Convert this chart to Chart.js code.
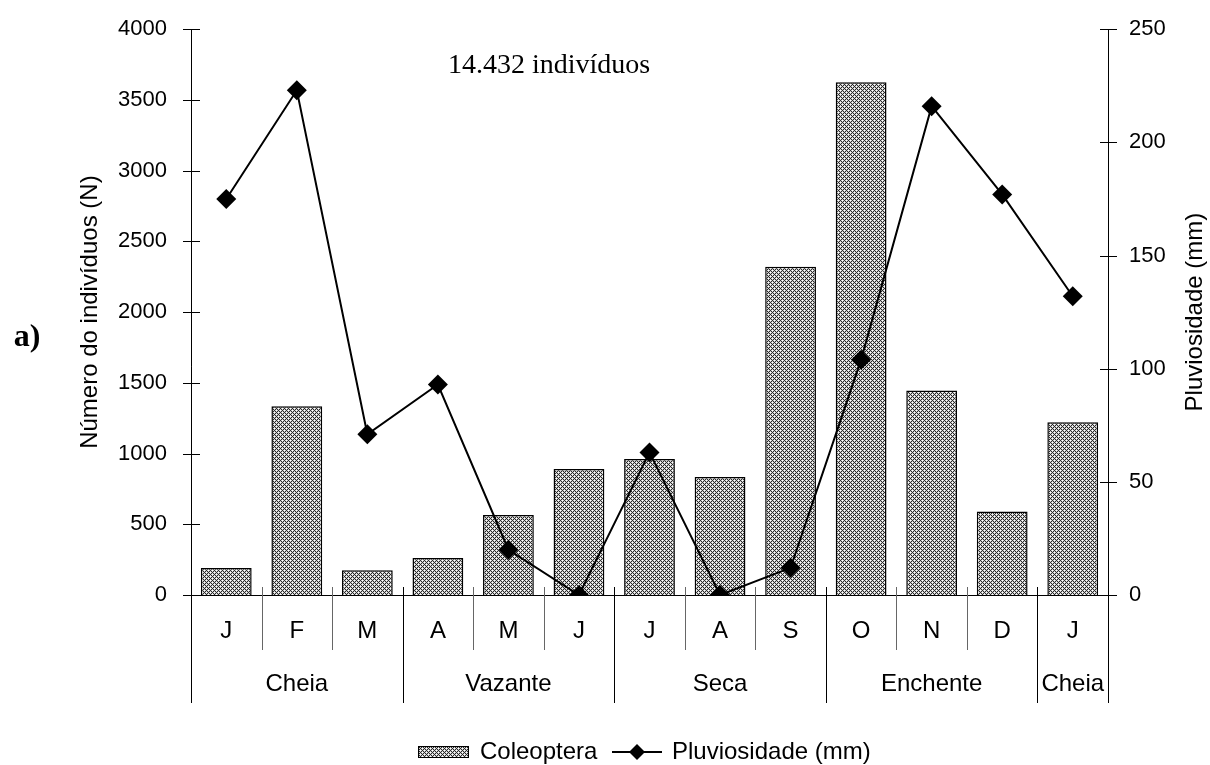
<!DOCTYPE html>
<html><head><meta charset="utf-8">
<script src="https://cdn.jsdelivr.net/npm/chart.js@4/dist/chart.umd.min.js"></script>
<style>html,body{margin:0;padding:0;background:#fff}canvas{display:block}</style>
</head><body>
<canvas id="c" width="1210" height="765"></canvas>
<script>
// ---- data ----
const months = ['J','F','M','A','M','J','J','A','S','O','N','D','J'];
const seasonLabels = ['Cheia','Vazante','Seca','Enchente','Cheia'];
const seasonSpans = [3,3,3,3,1];
const coleoptera = [190,1335,175,262,565,890,962,835,2320,3625,1445,590,1222];
const pluviosidade = [175,223,71,93,20,0,63,0,12,104,216,177,132];
const leftMax = 4000, leftStep = 500;
const rightMax = 250, rightStep = 50;
const annotation = '14.432 indivíduos';
const panelLabel = 'a)';
const leftTitle = 'Número do indivíduos (N)';
const rightTitle = 'Pluviosidade (mm)';

const canvas = document.getElementById('c');
const ctx = canvas.getContext('2d');

function makePattern(){
  const t = document.createElement('canvas'); t.width = 4; t.height = 4;
  const g = t.getContext('2d');
  const img = g.createImageData(4,4);
  for(let y=0;y<4;y++) for(let x=0;x<4;x++){
    let v;
    if(((x+y)%4===0) || ((x-y+4)%4===0)) v = 40;
    else if((x===2&&y===0)||(x===0&&y===2)) v = 255;
    else v = 205;
    const i=(y*4+x)*4; img.data[i]=v; img.data[i+1]=v; img.data[i+2]=v; img.data[i+3]=255;
  }
  g.putImageData(img,0,0);
  return ctx.createPattern(t,'repeat');
}
const pattern = makePattern();

const SANS = "'Liberation Sans', Arial, sans-serif";
const SERIF = "'Liberation Serif', 'Times New Roman', serif";

function L(c,x1,y1,x2,y2){c.beginPath();c.moveTo(x1,y1);c.lineTo(x2,y2);c.stroke();}
const r = v => Math.round(v)+0.5;

const deco = {
  id:'deco',
  beforeDatasetsDraw(chart){
    const {ctx:c, chartArea:a, scales:{x,y,y1}} = chart;
    c.save();
    c.strokeStyle='#000'; c.lineWidth=1;
    const bottomExt = 703;
    L(c, r(a.left), a.top, r(a.left), bottomExt);
    y.ticks.forEach(t=>{const py=r(y.getPixelForValue(t.value)); L(c,a.left-8,py,a.left+9,py);});
    L(c, r(a.right), a.top, r(a.right), bottomExt);
    y1.ticks.forEach(t=>{const py=r(y1.getPixelForValue(t.value)); L(c,a.right-8,py,a.right+9,py);});
    L(c, a.left-8, r(a.bottom), a.right+9, r(a.bottom));
    const n = months.length;
    const groupEdges = new Set([0]);
    let acc=0; seasonSpans.forEach(s=>{acc+=s; groupEdges.add(acc);});
    const edge = i => i===0 ? a.left : (i===n ? a.right : (x.getPixelForValue(i-1)+x.getPixelForValue(i))/2);
    for(let i=1;i<n;i++){
      const ex = r(edge(i));
      if(groupEdges.has(i)){ c.strokeStyle='#000'; L(c, ex, a.bottom-8, ex, bottomExt); }
      else { c.strokeStyle='#666'; L(c, ex, a.bottom-8, ex, 650); }
    }
    c.fillStyle='#000'; c.textAlign='center'; c.textBaseline='middle';
    c.font = '24px '+SANS;
    months.forEach((m,i)=>c.fillText(m, x.getPixelForValue(i), 631));
    let start=0;
    seasonLabels.forEach((s,k)=>{
      const end=start+seasonSpans[k];
      c.fillText(s, (edge(start)+edge(end))/2, 684);
      start=end;
    });
    c.font = '24px '+SANS;
    c.save(); c.translate(90, (a.top+a.bottom)/2); c.rotate(-Math.PI/2); c.fillText(leftTitle,0,0); c.restore();
    c.save(); c.translate(1195, (a.top+a.bottom)/2); c.rotate(-Math.PI/2); c.fillText(rightTitle,0,0); c.restore();
    c.font = '28px '+SERIF; c.textBaseline='alphabetic';
    c.fillText(annotation, 549, 73);
    c.font = 'bold 32px '+SERIF; c.textBaseline='middle';
    c.fillText(panelLabel, 27, 338);
    const ly = 752;
    c.fillStyle = pattern; c.fillRect(418, ly-5, 50, 10);
    c.strokeStyle='#000'; c.lineWidth=1; c.strokeRect(418.5, ly-5.5, 50, 11);
    c.fillStyle='#000'; c.textAlign='left'; c.font='24px '+SANS;
    c.fillText(chart.data.datasets[1].label, 480, ly);
    c.lineWidth=2; L(c, 612, ly, 662, ly);
    c.beginPath(); c.moveTo(637, ly-8); c.lineTo(645, ly); c.lineTo(637, ly+8); c.lineTo(629, ly); c.closePath(); c.fill();
    c.fillText(chart.data.datasets[0].label, 672, ly);
    c.restore();
  }
};

new Chart(ctx, {
  data: {
    labels: months,
    datasets: [
      {type:'line', label:'Pluviosidade (mm)', data: pluviosidade, yAxisID:'y1',
       borderColor:'#000', borderWidth:2, pointStyle:'rectRot', pointRadius:10,
       pointBackgroundColor:'#000', pointBorderColor:'#000', pointBorderWidth:0,
       tension:0, order:0},
      {type:'bar', label:'Coleoptera', data: coleoptera, yAxisID:'y',
       backgroundColor: pattern, borderColor:'#000', borderWidth:1.5,
       barPercentage:0.72, categoryPercentage:1, order:1}
    ]
  },
  options: {
    responsive:false, animation:false, devicePixelRatio:1,
    layout:{padding:{top:26,left:0,right:0,bottom:0}},
    plugins:{legend:{display:false}, tooltip:{enabled:false}},
    scales:{
      x:{grid:{display:false}, border:{display:false}, ticks:{display:false},
         afterFit: s=>{s.height=170;}},
      y:{position:'left', min:0, max:leftMax,
         ticks:{stepSize:leftStep, color:'#000', font:{family:SANS, size:22}, padding:16,
                callback: v => String(v)},
         grid:{display:false}, border:{display:false},
         afterFit: s=>{s.width=191;}},
      y1:{position:'right', min:0, max:rightMax,
         ticks:{stepSize:rightStep, color:'#000', font:{family:SANS, size:22}, padding:13,
                callback: v => String(v)},
         grid:{display:false}, border:{display:false},
         afterFit: s=>{s.width=102;}}
    }
  },
  plugins:[deco]
});
</script>
</body></html>
